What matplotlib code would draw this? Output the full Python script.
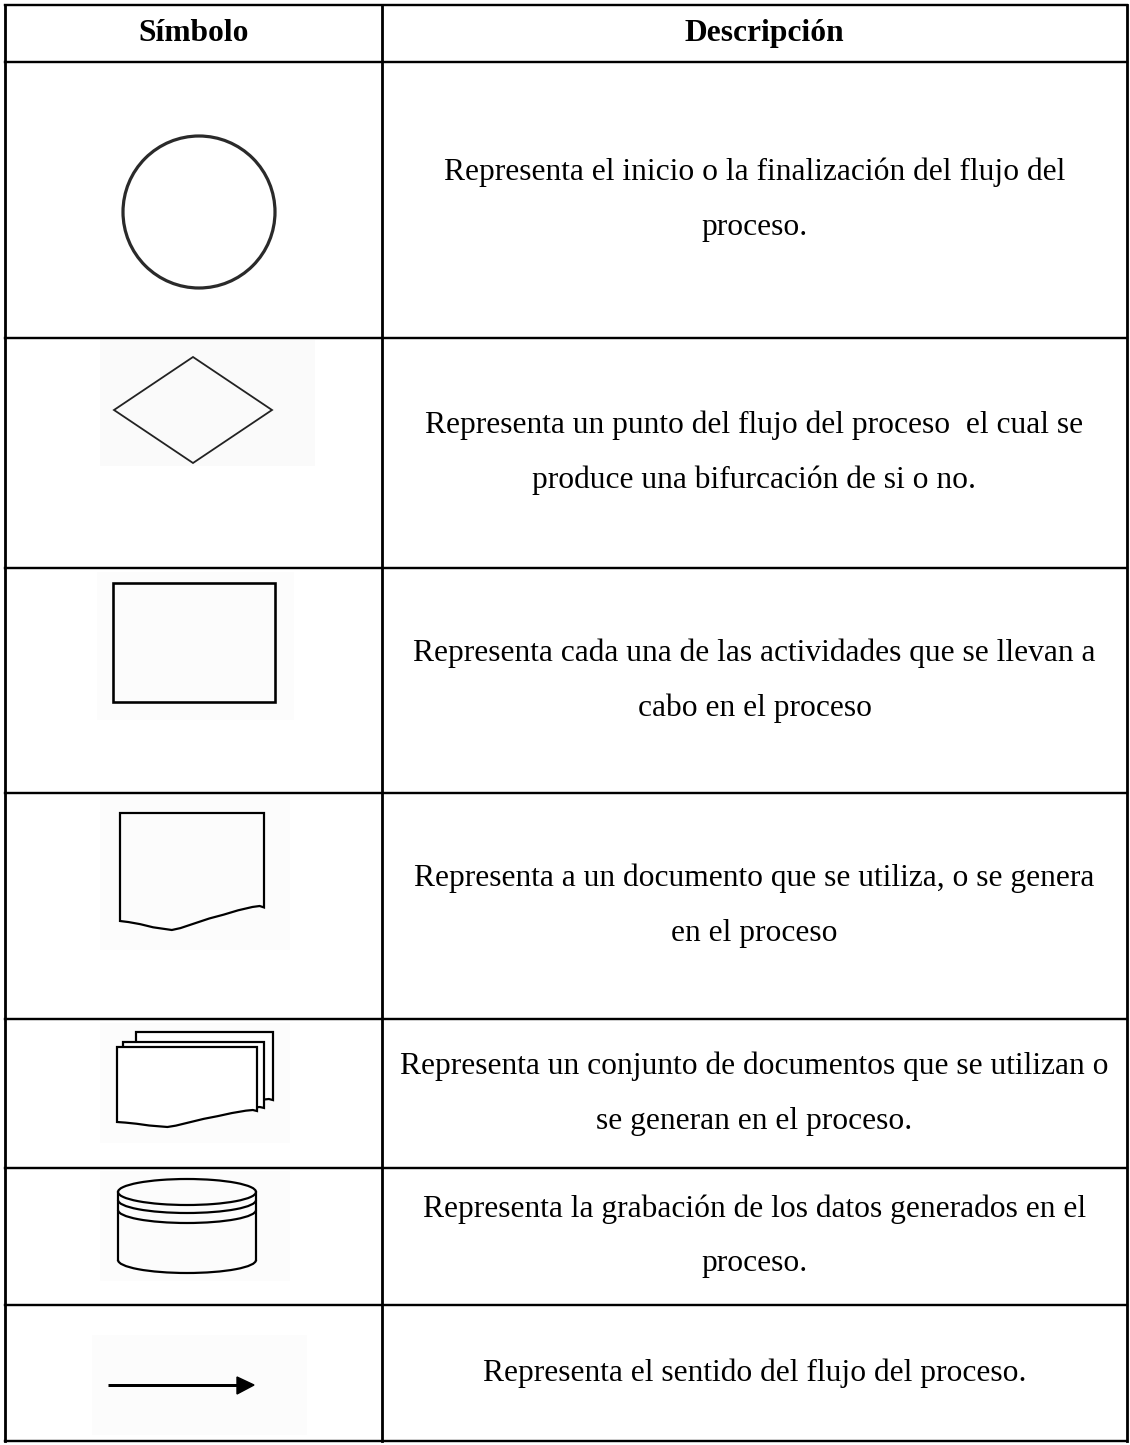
import numpy as np
import matplotlib
matplotlib.use("Agg")
import matplotlib.pyplot as plt
from matplotlib.patches import Circle, Polygon, Rectangle, Arc

# table content
headers = ["Símbolo", "Descripción"]
symbols = ["inicio_fin", "decision", "actividad", "documento", "documentos", "datos", "flujo"]
descriptions = [
    ["Representa el inicio o la finalización del flujo del", "proceso."],
    ["Representa un punto del flujo del proceso  el cual se", "produce una bifurcación de si o no."],
    ["Representa cada una de las actividades que se llevan a", "cabo en el proceso"],
    ["Representa a un documento que se utiliza, o se genera", "en el proceso"],
    ["Representa un conjunto de documentos que se utilizan o", "se generan en el proceso."],
    ["Representa la grabación de los datos generados en el", "proceso."],
    ["Representa el sentido del flujo del proceso."],
]

# layout (pixels)
W, H = 1130, 1445
X_LEFT, X_MID, X_RIGHT = 5, 382, 1127
ROW_EDGES = [5, 62, 338, 568, 793, 1019, 1168, 1305, 1441]
LINE_GAP = 55
FS = 31.5
FONT = ["Liberation Serif", "DejaVu Serif"]
PX = 0.72  # px -> pt at dpi 100


def doc_outline(x0, x1, top, yl, ylow, yr):
    """Document shape: flat top, wavy bottom."""
    w = x1 - x0
    xs = x0 + w * np.array([0.0, 0.06, 0.14, 0.23, 0.36, 0.42, 0.52, 0.62, 0.72, 0.82, 0.92, 0.97, 1.0])
    fr = np.array([0.0, 0.12, 0.35, 0.7, 1.0, 0.92, 0.72, 0.52, 0.36, 0.18, 0.04, 0.0, 0.06])
    ys = np.empty_like(xs)
    for i, f in enumerate(fr):
        base = yl if xs[i] - x0 < 0.36 * w else yr
        ys[i] = base + f * (ylow - base)
    pts = [(x0, top), (x1, top)] + list(zip(xs[::-1], ys[::-1]))
    return pts


def draw_symbol(ax, kind):
    lw = 2.2 * PX
    k = "black"
    if kind == "inicio_fin":
        ax.add_patch(Circle((199, 212), 76, fill=False, ec="#2a2a2a", lw=3.2 * PX))
    elif kind == "decision":
        ax.add_patch(Rectangle((100, 340), 215, 126, fc="#fafafa", ec="none"))
        ax.add_patch(Polygon([(114, 410), (193, 357), (272, 410), (193, 463)],
                             closed=True, fill=False, ec="#222222", lw=1.8 * PX))
    elif kind == "actividad":
        ax.add_patch(Rectangle((97, 572), 197, 148, fc="#fcfcfc", ec="none"))
        ax.add_patch(Rectangle((113, 583), 162, 119, fill=False, ec=k, lw=2.6 * PX))
    elif kind == "documento":
        ax.add_patch(Rectangle((100, 800), 190, 150, fc="#fcfcfc", ec="none"))
        ax.add_patch(Polygon(doc_outline(120, 264, 813, 921, 930, 906),
                             closed=True, fill=False, ec=k, lw=lw))
    elif kind == "documentos":
        ax.add_patch(Rectangle((100, 1023), 190, 120, fc="#fcfcfc", ec="none"))
        for x0, x1, top, yr, yl in [(136, 273, 1032, 1099, 1112),
                                    (123, 264, 1042, 1107, 1118),
                                    (117, 257, 1047, 1110, 1122)]:
            ax.add_patch(Polygon(doc_outline(x0, x1, top, yl, yl + 5, yr),
                                 closed=True, fc="white", ec=k, lw=lw))
    elif kind == "datos":
        ax.add_patch(Rectangle((100, 1171), 190, 110, fc="#fcfcfc", ec="none"))
        cx, rx, ry = 187, 69, 13
        ax.add_patch(Arc((cx, 1192), 2 * rx, 2 * ry, theta1=0, theta2=360, ec=k, lw=lw))
        for cy in (1200, 1210):
            ax.add_patch(Arc((cx, cy), 2 * rx, 2 * ry, theta1=0, theta2=180, ec=k, lw=lw))
        ax.add_patch(Arc((cx, 1260), 2 * rx, 2 * ry, theta1=0, theta2=180, ec=k, lw=lw))
        ax.plot([cx - rx, cx - rx], [1192, 1260], color=k, lw=lw)
        ax.plot([cx + rx, cx + rx], [1192, 1260], color=k, lw=lw)
    elif kind == "flujo":
        ax.add_patch(Rectangle((92, 1335), 215, 100, fc="#fcfcfc", ec="none"))
        ax.plot([108, 240], [1385, 1385], color=k, lw=3 * PX, solid_capstyle="butt")
        ax.add_patch(Polygon([(237, 1377), (237, 1394), (254, 1385)], closed=True, fc=k, ec=k, lw=1))


fig = plt.figure(figsize=(W / 100, H / 100), dpi=100)
ax = fig.add_axes([0, 0, 1, 1])
ax.set_xlim(0, W)
ax.set_ylim(H, 0)
ax.axis("off")

# symbols first, so the table lines stay on top
for kind in symbols:
    draw_symbol(ax, kind)

# table grid
for y in ROW_EDGES:
    ax.plot([X_LEFT, X_RIGHT], [y, y], color="black", lw=2.4 * PX, solid_capstyle="projecting")
for x in (X_LEFT, X_MID, X_RIGHT):
    ax.plot([x, x], [ROW_EDGES[0], ROW_EDGES[-1]], color="black", lw=2.8 * PX, solid_capstyle="projecting")

# header
hy = (ROW_EDGES[0] + ROW_EDGES[1]) / 2
ax.text((X_LEFT + X_MID) / 2, hy, headers[0], ha="center", va="center",
        fontsize=FS * PX, fontweight="bold", family=FONT)
ax.text((X_MID + X_RIGHT) / 2 + 10, hy, headers[1], ha="center", va="center",
        fontsize=FS * PX, fontweight="bold", family=FONT)

# descriptions
for i, lines in enumerate(descriptions):
    cy = (ROW_EDGES[i + 1] + ROW_EDGES[i + 2]) / 2
    n = len(lines)
    for j, line in enumerate(lines):
        y = cy + (j - (n - 1) / 2) * LINE_GAP
        ax.text((X_MID + X_RIGHT) / 2, y, line, ha="center", va="center",
                fontsize=FS * PX, family=FONT)

fig.savefig("out.png", dpi=100)
